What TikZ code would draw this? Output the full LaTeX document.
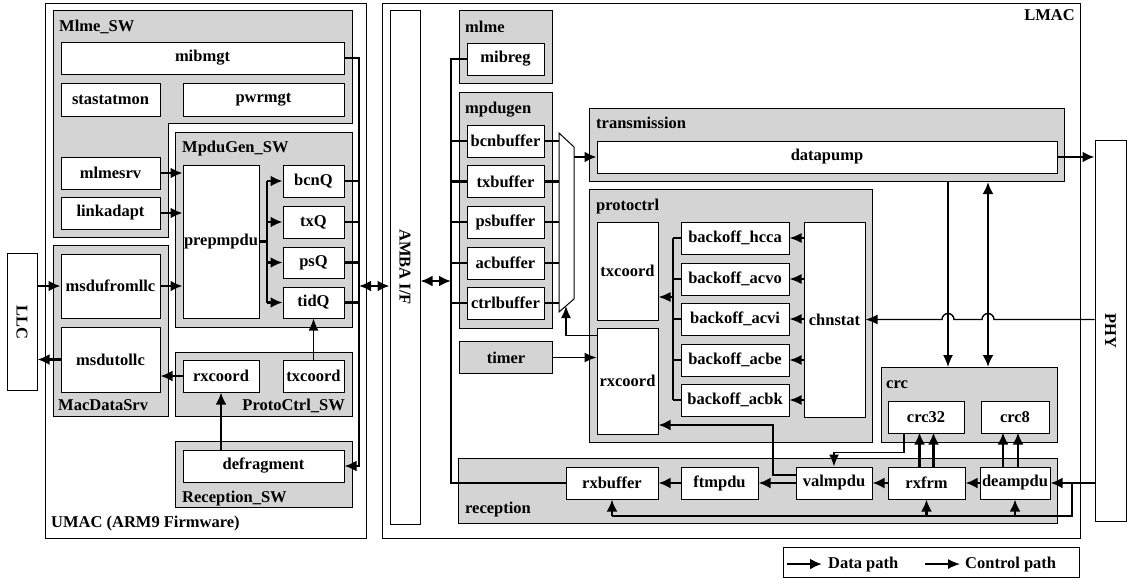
\documentclass[tikz,border=0pt]{standalone}
\usepackage{fontspec}
\setmainfont{Liberation Serif}
\usetikzlibrary{positioning,calc,arrows.meta}
\tikzset{sz/.style 2 args={minimum width=#1, minimum height=#2}}
\tikzset{lbl/.style={inner sep=0pt, font=\bfseries\fontsize{16.5}{18}\selectfont}}
\tikzset{blk/.style={lbl, draw, fill=white, line width=1pt}}
\tikzset{grp/.style={lbl, draw, fill=black!17, line width=1pt}}
\tikzset{vtxt/.style={blk, rotate=-90}}
\tikzset{dline/.style={draw, line width=2.6pt}}
\tikzset{cline/.style={draw, line width=1.4pt}}
\tikzset{dat/.style={dline, -{Latex[length=12pt,width=11pt]}}}
\tikzset{ctl/.style={cline, -{Latex[length=12pt,width=10pt]}}}
\tikzset{dbl/.style={dline, {Latex[length=12pt,width=11pt]}-{Latex[length=12pt,width=11pt]}}}

\begin{document}
\begin{tikzpicture}[x=1pt, y=-1pt]
	\useasboundingbox (0,0) rectangle (1132,579);
	% frames
	\node[draw, line width=1pt, sz={321}{535}, anchor=north west] (umac) at (45,3) {};
	\node[draw, line width=1pt, sz={698}{535}, anchor=north west] (lmac) at (382,3) {};
	\node[lbl, anchor=base west] (umacl) at (51,527) {UMAC (ARM9 Firmware)};
	\node[lbl, anchor=base east] (lmacl) at (1075,20) {LMAC};
	% rotated boxes: north = right side, south = left side
	\node[vtxt, sz={137}{30}] (llc) at (22,322) {LLC};
	\node[vtxt, sz={514}{30}] (amba) at (405,267) {AMBA I/F};
	\node[vtxt, sz={381}{31}] (phy) at (1110.5,330.5) {PHY};

	% UMAC groups
	\draw[grp] (53,10) -- (352,10) -- (352,123) -- (168,123) -- (168,237) -- (53,237) -- cycle;
	\node[lbl, anchor=base west] (mlmeswl) at (59,31) {Mlme\_SW};
	\node[grp, sz={177}{195}, anchor=north west] (mpdugensw) at (175,132) {};
	\node[lbl, anchor=base west] (mpdugenswl) at (182,152) {MpduGen\_SW};
	\node[grp, sz={115}{171}, anchor=north west] (macdatasrv) at (53,245) {};
	\node[lbl, anchor=base west] (macdatasrvl) at (58,410) {MacDataSrv};
	\node[grp, sz={177}{64}, anchor=north west] (protoctrlsw) at (175,352) {};
	\node[lbl, anchor=base east] (protoctrlswl) at (345,410) {ProtoCtrl\_SW};
	\node[grp, sz={177}{66}, anchor=north west] (receptionsw) at (175,441) {};
	\node[lbl, anchor=base west] (receptionswl) at (182,502) {Reception\_SW};

	\node[blk, sz={283}{32}] (mibmgt) at (202.5,58) {mibmgt};
	\node[blk, sz={99}{33}] (stastatmon) at (110.5,99.5) {stastatmon};
	\node[blk, sz={161}{33}] (pwrmgt) at (263.5,99.5) {pwrmgt};
	\node[blk, sz={99}{32}] (mlmesrv) at (110.5,173) {mlmesrv};
	\node[blk, sz={99}{32}] (linkadapt) at (110.5,213) {linkadapt};
	\node[blk, sz={76}{153}] (prepmpdu) at (221,241.5) {prepmpdu};
	\node[blk, sz={61}{32}] (bcnQ) at (313.5,181) {bcnQ};
	\node[blk, sz={61}{32}] (txQ) at (313.5,222) {txQ};
	\node[blk, sz={61}{31}] (psQ) at (313.5,262.5) {psQ};
	\node[blk, sz={61}{31}] (tidQ) at (313.5,302.5) {tidQ};
	\node[blk, sz={99}{64}] (msdufromllc) at (110.5,286) {msdufromllc};
	\node[blk, sz={99}{65}] (msdutollc) at (110.5,359.5) {msdutollc};
	\node[blk, sz={76}{32}] (rxcoordsw) at (221,376) {rxcoord};
	\node[blk, sz={61}{32}] (txcoordsw) at (313.5,376) {txcoord};
	\node[blk, sz={161}{32}] (defragment) at (263.5,466) {defragment};

	% LMAC groups
	\node[grp, sz={93}{73}, anchor=north west] (mlme) at (459,10) {};
	\node[lbl, anchor=base west] (mlmel) at (465,32) {mlme};
	\node[grp, sz={93}{236}, anchor=north west] (mpdugen) at (459,92) {};
	\node[lbl, anchor=base west] (mpdugenl) at (465,113) {mpdugen};
	\node[grp, sz={475}{73}, anchor=north west] (transmission) at (589,108) {};
	\node[lbl, anchor=base west] (transmissionl) at (596,128) {transmission};
	\node[grp, sz={283}{253}, anchor=north west] (protoctrl) at (589,189) {};
	\node[lbl, anchor=base west] (protoctrll) at (596,210) {protoctrl};
	\node[grp, sz={176}{75}, anchor=north west] (crc) at (881,367) {};
	\node[lbl, anchor=base west] (crcl) at (886,388) {crc};
	\node[grp, sz={599}{65}, anchor=north west] (reception) at (458,458) {};
	\node[lbl, anchor=base west] (receptionl) at (465,513) {reception};
	\node[grp, sz={93}{32}, anchor=north west] (timer) at (459,341) {timer};

	\node[blk, sz={77}{32}] (mibreg) at (505.5,59) {mibreg};
	\node[blk, sz={77}{32}] (bcnbuf) at (505.5,141) {bcnbuffer};
	\node[blk, sz={77}{32}] (txbuf) at (505.5,181.5) {txbuffer};
	\node[blk, sz={77}{32}] (psbuf) at (505.5,222) {psbuffer};
	\node[blk, sz={77}{32}] (acbuf) at (505.5,263) {acbuffer};
	\node[blk, sz={77}{32}] (ctrlbuf) at (505.5,303) {ctrlbuffer};
	\node[blk, sz={460}{32}] (datapump) at (827,157) {datapump};
	\node[blk, sz={61}{98}] (txcoord) at (627.5,271) {txcoord};
	\node[blk, sz={61}{106}] (rxcoord) at (627.5,381) {rxcoord};
	\node[blk, sz={108}{32}] (bhcca) at (735,238) {backoff\_hcca};
	\node[blk, sz={108}{32}] (bacvo) at (735,279) {backoff\_acvo};
	\node[blk, sz={108}{32}] (bacvi) at (735,319) {backoff\_acvi};
	\node[blk, sz={108}{32}] (bacbe) at (735,360) {backoff\_acbe};
	\node[blk, sz={108}{32}] (bacbk) at (735,400) {backoff\_acbk};
	\node[blk, sz={61}{195}] (chnstat) at (834.5,319.5) {chnstat};
	\node[blk, sz={76}{32}] (crc32) at (926,417) {crc32};
	\node[blk, sz={68}{32}] (crc8) at (1015,417) {crc8};
	\node[blk, sz={92}{32}] (rxbuffer) at (612,483) {rxbuffer};
	\node[blk, sz={77}{32}] (ftmpdu) at (719.5,483) {ftmpdu};
	\node[blk, sz={76}{32}] (valmpdu) at (834,483) {valmpdu};
	\node[blk, sz={77}{32}] (rxfrm) at (926.5,483) {rxfrm};
	\node[blk, sz={70}{32}] (deampdu) at (1015,483) {deampdu};

	% mux
	\draw[fill=white, line width=1pt] (559,133) -- (574,147) -- (574,299) -- (559,312) -- cycle;
	\coordinate (muxl) at (559,0);
	\coordinate (muxr) at (574,0);
	\coordinate (muxb) at (566,306);

	% UMAC connections
	\draw[dat] (llc.north |- msdufromllc.west) -- (msdufromllc.west);
	\draw[dat] (msdutollc.west) -- (llc.north |- msdutollc.west);
	\draw[dat] (mlmesrv.east) -- (prepmpdu.west |- mlmesrv.east);
	\draw[dat] (linkadapt.east) -- (prepmpdu.west |- linkadapt.east);
	\draw[dat] (msdufromllc.east) -- (prepmpdu.west |- msdufromllc.east);
	\coordinate (qbus) at (267,241.5);
	\draw[dline] (prepmpdu.east) -- (qbus);
	\draw[dline] (qbus |- bcnQ.west) -- (qbus |- tidQ.west);
	\coordinate (ubus) at (359,0);
	\foreach \q in {bcnQ,txQ,psQ,tidQ} {
		\draw[dat] (qbus |- \q.west) -- (\q.west);
		\draw[dline] (\q.east) -- (ubus |- \q.east);
	}
	\draw[dat] (mibmgt.east) -| (ubus |- defragment.east) -- (defragment.east);
	\draw[dbl] (ubus |- msdufromllc.east) -- (amba.south |- msdufromllc.east);
	\draw[dat] (rxcoordsw.west) -- (msdutollc.east |- rxcoordsw.west);
	\draw[ctl] (txcoordsw.north) -- (tidQ.south);
	\draw[dat] (defragment.north -| rxcoordsw.south) -- (rxcoordsw.south);

	% LMAC connections
	\coordinate (lbus) at (451,0);
	\coordinate (ambaio) at ([yshift=-14pt]amba.north);
	\draw[dbl] (ambaio) -- (ambaio -| lbus);
	\draw[dline] (mibreg.west) -| (lbus |- rxbuffer.west) -- (rxbuffer.west);
	\foreach \b in {bcnbuf,txbuf,psbuf,acbuf,ctrlbuf} {
		\draw[dline] (\b.west) -- (lbus |- \b.west);
		\draw[dline] (\b.east) -- (muxl |- \b.east);
	}
	\draw[dat] (muxr |- datapump.west) -- (datapump.west);
	\draw[dat] (datapump.east) -- (phy.south |- datapump.east);
	\draw[ctl] ([yshift=-8pt]rxcoord.north west) -| (muxb);
	\draw[ctl] (timer.east) -- (rxcoord.west |- timer.east);
	\coordinate (bbus) at (673,0);
	\foreach \b in {bhcca,bacvo,bacvi,bacbe,bacbk} {
		\draw[cline] (\b.west) -- (bbus |- \b.west);
		\draw[ctl] (chnstat.west |- \b.east) -- (\b.east);
	}
	\draw[cline] (bbus |- bhcca.west) -- (bbus |- bacbk.west);
	\coordinate (txin) at ([yshift=-26pt]txcoord.east);
	\draw[ctl] (bbus |- txin) -- (txin);

	\coordinate (v1) at (948,0);
	\coordinate (v2) at (988,0);
	\draw[ctl] (transmission.south -| v1) -- (crc.north -| v1);
	\draw[dbl] (transmission.south -| v2) -- (crc.north -| v2);
	\path (v2 |- chnstat.east) coordinate (hop2) (v1 |- chnstat.east) coordinate (hop1);
	\draw[ctl] (phy.south |- chnstat.east) -- ([xshift=6pt]hop2)
		arc[start angle=0, end angle=180, radius=6pt] -- ([xshift=6pt]hop1)
		arc[start angle=0, end angle=180, radius=6pt] -- (chnstat.east);

	% reception path
	\draw[dat] (deampdu.west) -- (rxfrm.east);
	\draw[dat] (rxfrm.west) -- (valmpdu.east);
	\draw[dat] (valmpdu.west) -- (ftmpdu.east);
	\draw[dat] (ftmpdu.west) -- (rxbuffer.east);
	\coordinate (vx) at (773,425);
	\draw[dat] ([yshift=8pt]valmpdu.west) -| (vx) -- (rxcoord.east |- vx);
	\draw[ctl] ([xshift=-22pt]crc32.south) -- ++(0,19) -| (valmpdu.north);
	\foreach \dx in {-7,7}
		\draw[dat] ([xshift=\dx pt]rxfrm.north) -- ++(0,-34);
	\foreach \dx in {-12,3}
		\draw[dat] ([xshift=\dx pt]deampdu.north) -- ++(0,-34);
	\draw[dat] (phy.south |- deampdu.east) -- (deampdu.east);
	\coordinate (fb) at (1072,516);
	\draw[dline] (fb |- deampdu.east) -- (fb) -- (fb -| rxbuffer.south);
	\foreach \r in {rxbuffer,rxfrm,deampdu}
		\draw[dat] (fb -| \r.south) -- (\r.south);

	% legend
	\node[draw, line width=1pt, sz={296}{30}, anchor=north west] (legend) at (783,547) {};
	\node[lbl, anchor=base west] (ldat) at (828,568) {Data path};
	\node[lbl, anchor=base west] (lctl) at (965,568) {Control path};
	\draw[dat] ([xshift=-41pt]ldat.west) -- ([xshift=-6pt]ldat.west);
	\draw[ctl] ([xshift=-40pt]lctl.west) -- ([xshift=-5pt]lctl.west);
\end{tikzpicture}
\end{document}
